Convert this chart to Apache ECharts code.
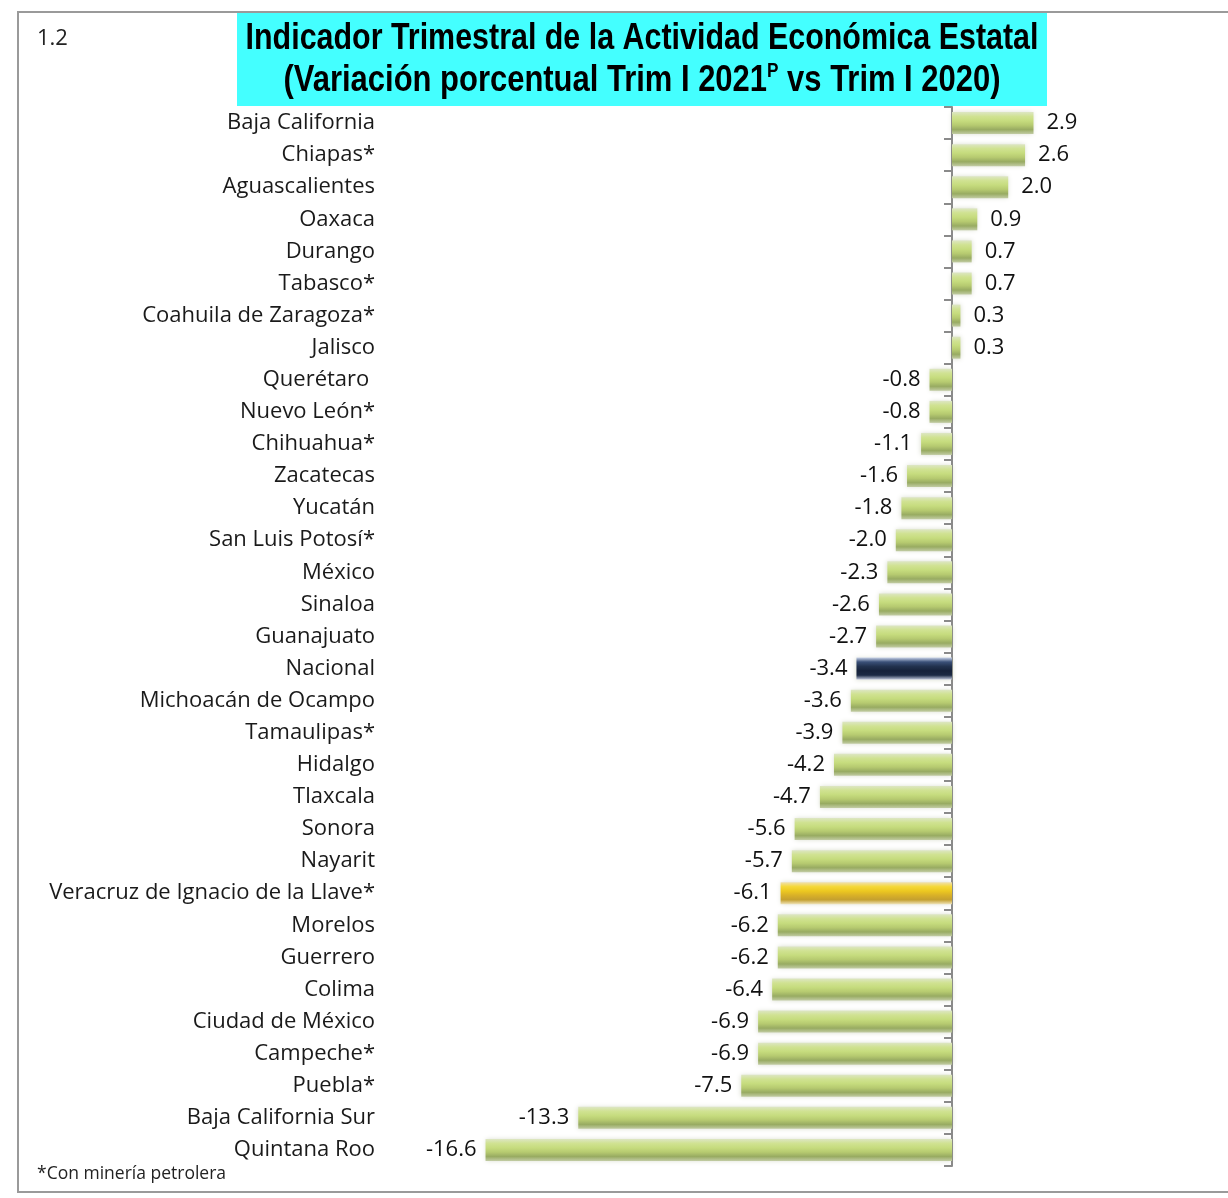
<!DOCTYPE html>
<html>
<head>
<meta charset="utf-8">
<script src="https://cdn.jsdelivr.net/npm/echarts@6/dist/echarts.min.js"></script>
<style>
  html, body { margin: 0; padding: 0; background: #fff; }
  #chart { width: 1228px; height: 1198px; }
</style>
</head>
<body>
<div id="chart"></div>
<script>
// categorias y valores (variacion %)
const estados = [
  'Baja California', 'Chiapas*', 'Aguascalientes', 'Oaxaca', 'Durango', 'Tabasco*',
  'Coahuila de Zaragoza*', 'Jalisco', 'Querétaro ', 'Nuevo León*', 'Chihuahua*',
  'Zacatecas', 'Yucatán', 'San Luis Potosí*', 'México', 'Sinaloa', 'Guanajuato',
  'Nacional', 'Michoacán de Ocampo', 'Tamaulipas*', 'Hidalgo', 'Tlaxcala', 'Sonora',
  'Nayarit', 'Veracruz de Ignacio de la Llave*', 'Morelos', 'Guerrero', 'Colima',
  'Ciudad de México', 'Campeche*', 'Puebla*', 'Baja California Sur', 'Quintana Roo'
];
const variacion = [
  2.9, 2.6, 2.0, 0.9, 0.7, 0.7,
  0.3, 0.3, -0.8, -0.8, -1.1,
  -1.6, -1.8, -2.0, -2.3, -2.6, -2.7,
  -3.4, -3.6, -3.9, -4.2, -4.7, -5.6,
  -5.7, -6.1, -6.2, -6.2, -6.4,
  -6.9, -6.9, -7.5, -13.3, -16.6
];
const resaltados = { 'Nacional': 'nacional', 'Veracruz de Ignacio de la Llave*': 'veracruz' };

const grad = (stops) => new echarts.graphic.LinearGradient(0, 0, 0, 1,
  stops.map((c, i) => ({ offset: i / (stops.length - 1), color: c })));

const colorVerde = grad(['#dde6c4', '#d0e292', '#c6dc7e', '#b6ca70', '#98ab62', '#c2cca4']);
const colorNacional = grad(['#c8d2e8', '#3a5078', '#22324e', '#16223a', '#1c2a44', '#c0c8dc']);
const colorVeracruz = grad(['#efe0b0', '#f5d838', '#ecc820', '#d8b028', '#c4a030', '#efe3b8']);

const fuente = '"Open Sans", "Liberation Sans", sans-serif';
const fuenteTitulo = 'bold 36px "Liberation Sans", sans-serif';

const chart = echarts.init(document.getElementById('chart'));

const option = {
  animation: false,
  backgroundColor: '#fff',
  grid: { left: 390, right: 135.5, top: 107, bottom: 32 },
  xAxis: {
    type: 'value',
    min: -20,
    max: 5,
    show: false
  },
  yAxis: [
    {
      type: 'category',
      data: estados,
      inverse: true,
      position: 'left',
      axisLine: { show: false, onZero: false },
      axisTick: { show: false },
      axisLabel: {
        margin: 15,
        fontFamily: fuente,
        fontSize: 22,
        color: '#1a1a1a'
      }
    },
    {
      type: 'category',
      data: estados,
      inverse: true,
      position: 'left',
      axisLine: { show: true, onZero: true, lineStyle: { color: '#8a8a8a', width: 2 } },
      axisTick: { show: true, length: 8, lineStyle: { color: '#8a8a8a', width: 2 } },
      axisLabel: { show: false }
    }
  ],
  series: [
    {
      type: 'bar',
      yAxisIndex: 0,
      barWidth: 22,
      data: variacion.map((v, i) => {
        const tipo = resaltados[estados[i]];
        const item = {
          value: v,
          itemStyle: {
            color: tipo === 'nacional' ? colorNacional : tipo === 'veracruz' ? colorVeracruz : colorVerde
          }
        };
        // etiquetas de negativos a la izquierda de la barra
        if (v < 0) item.label = { position: 'left', distance: 9 };
        return item;
      }),
      itemStyle: {
        shadowBlur: 5,
        shadowColor: 'rgba(150,160,120,0.4)'
      },
      label: {
        show: true,
        position: 'right',
        distance: 13,
        formatter: (p) => p.value.toFixed(1),
        fontFamily: fuente,
        fontSize: 22,
        color: '#111'
      }
    }
  ],
  graphic: [
    {
      type: 'rect',
      shape: { x: 18, y: 12, width: 1220, height: 1180 },
      style: { fill: 'none', stroke: '#9a9a9a', lineWidth: 2 },
      z: 1
    },
    {
      type: 'rect',
      shape: { x: 237, y: 13, width: 810, height: 93 },
      style: { fill: '#44ffff' },
      z: 2
    },
    {
      type: 'text',
      x: 642, y: 39,
      scaleX: 0.845,
      style: {
        text: 'Indicador Trimestral de la Actividad Económica Estatal',
        align: 'center', verticalAlign: 'middle',
        font: fuenteTitulo,
        fill: '#000'
      },
      z: 3
    },
    {
      type: 'text',
      x: 642, y: 81,
      scaleX: 0.86,
      style: {
        text: '{m|(Variación porcentual Trim I 2021}{s|P}{m| vs Trim I 2020)}',
        align: 'center', verticalAlign: 'middle',
        rich: {
          m: { font: fuenteTitulo, fill: '#000', lineHeight: 40 },
          s: { font: 'bold 20px "Liberation Sans", sans-serif', fill: '#000', verticalAlign: 'top', lineHeight: 40, padding: [0, 0, 14, 0] }
        }
      },
      z: 3
    },
    {
      type: 'text',
      x: 37, y: 39,
      style: { text: '1.2', verticalAlign: 'middle', font: '22px ' + fuente, fill: '#222' },
      z: 3
    },
    {
      type: 'text',
      x: 37, y: 1174,
      style: { text: '*Con minería petrolera', verticalAlign: 'middle', font: '17.5px ' + fuente, fill: '#222' },
      z: 3
    }
  ]
};

chart.setOption(option);
window.addEventListener('resize', () => chart.resize());
</script>
</body>
</html>
